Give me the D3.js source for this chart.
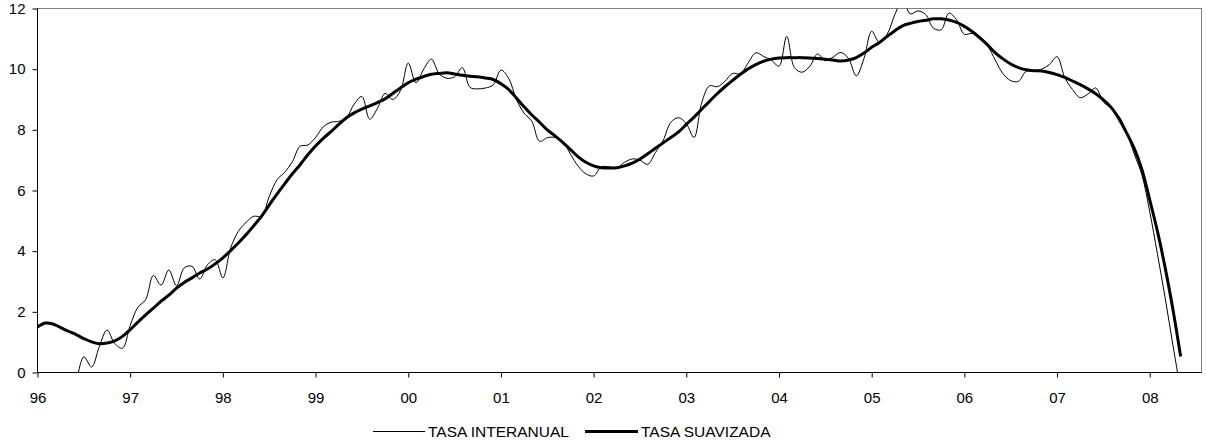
<!DOCTYPE html>
<html>
<head>
<meta charset="utf-8">
<script src="https://cdn.jsdelivr.net/npm/d3@7"></script>
<style>
  html, body { margin: 0; padding: 0; background: #fff; }
  svg { display: block; font-family: "Liberation Sans", Arial, sans-serif; }
</style>
</head>
<body>
<svg id="chart" width="1206" height="443"></svg>
<script>
// Monthly series starting January 1996 (index 0) through May 2008 (index 148).
const yearLabels = ["96","97","98","99","00","01","02","03","04","05","06","07","08"];
const yTicks = [0, 2, 4, 6, 8, 10, 12];

// TASA INTERANUAL (thin line); early months lie below the axis minimum.
const tasaInteranual = [
  null, null, null, null, null, -0.40, 0.52, 0.18, 0.85, 1.40, 0.95, 0.80,
  1.55, 2.15, 2.40, 3.20, 2.88, 3.38, 2.86, 3.45, 3.50, 3.08, 3.55, 3.72,
  3.12, 4.10, 4.65, 4.95, 5.15, 5.15, 5.80, 6.35, 6.60, 6.95, 7.46, 7.50,
  7.75, 8.10, 8.25, 8.28, 8.40, 8.85, 9.10, 8.35, 8.70, 9.20, 9.00, 9.30,
  10.20, 9.55, 10.00, 10.33, 9.85, 9.70, 9.75, 10.05, 9.40, 9.35, 9.38, 9.48,
  9.97, 9.70, 9.00, 8.55, 8.28, 7.62, 7.74, 7.75, 7.62, 7.20, 6.80, 6.55,
  6.48, 6.78, 6.78, 6.75, 6.93, 7.04, 7.00, 6.86, 7.25, 7.65, 8.25, 8.40,
  8.20, 7.75, 8.90, 9.45, 9.42, 9.60, 9.86, 9.85, 10.20, 10.54, 10.42, 10.30,
  10.10, 11.08, 10.05, 9.90, 10.10, 10.50, 10.28, 10.40, 10.55, 10.35, 9.78, 10.35,
  11.25, 10.88, 11.15, 11.80, 12.30, 11.82, 11.92, 11.80, 11.35, 11.30, 11.85, 11.62,
  11.15, 11.18, 11.08, 10.78, 10.30, 9.85, 9.62, 9.60, 9.93, 9.93, 10.00, 10.15,
  10.41, 9.72, 9.33, 9.06, 9.18, 9.38, 8.92, 8.72, 8.45, 7.92, 7.20, 6.50,
  5.30, 3.90, 2.45, 0.90, -0.60
];

// TASA SUAVIZADA (thick line).
const tasaSuavizada = [
  1.50, 1.63, 1.60, 1.48, 1.36, 1.25, 1.12, 1.01, 0.95, 0.97, 1.04, 1.19,
  1.41, 1.66, 1.90, 2.12, 2.35, 2.55, 2.78, 2.97, 3.12, 3.28, 3.41, 3.58,
  3.78, 4.02, 4.27, 4.54, 4.84, 5.15, 5.52, 5.88, 6.22, 6.55, 6.85, 7.18,
  7.47, 7.72, 7.94, 8.18, 8.40, 8.56, 8.68, 8.79, 8.90, 9.02, 9.20, 9.38,
  9.55, 9.67, 9.76, 9.83, 9.86, 9.88, 9.84, 9.80, 9.77, 9.75, 9.71, 9.66,
  9.52, 9.33, 9.05, 8.76, 8.49, 8.25, 8.00, 7.80, 7.59, 7.35, 7.11, 6.93,
  6.81, 6.75, 6.74, 6.75, 6.81, 6.90, 7.04, 7.21, 7.39, 7.57, 7.75, 7.93,
  8.18, 8.42, 8.68, 8.94, 9.19, 9.42, 9.63, 9.83, 10.01, 10.15, 10.26, 10.33,
  10.37, 10.38, 10.38, 10.38, 10.37, 10.35, 10.33, 10.30, 10.27, 10.30, 10.38, 10.53,
  10.72, 10.88, 11.08, 11.27, 11.43, 11.51, 11.57, 11.61, 11.66, 11.66, 11.62, 11.54,
  11.41, 11.24, 11.03, 10.80, 10.54, 10.34, 10.17, 10.05, 9.98, 9.95, 9.94, 9.89,
  9.82, 9.73, 9.61, 9.49, 9.35, 9.19, 8.99, 8.74, 8.37, 7.90, 7.38, 6.68,
  5.69, 4.65, 3.45, 2.08, 0.53
];

const svg = d3.select("#chart");
const plot = { left: 37.5, top: 8.5, right: 1201.5, bottom: 372.5 };

const x = d3.scaleLinear().domain([0, 150.7]).range([plot.left, plot.right]);
const y = d3.scaleLinear().domain([0, 12]).range([plot.bottom, plot.top]);

// plot-area frame
svg.append("rect")
  .attr("x", plot.left).attr("y", plot.top)
  .attr("width", plot.right - plot.left).attr("height", plot.bottom - plot.top)
  .attr("fill", "#fff").attr("stroke", "#808080").attr("stroke-width", 1);

svg.append("clipPath").attr("id", "plotClip")
  .append("rect")
  .attr("x", plot.left).attr("y", plot.top)
  .attr("width", plot.right - plot.left).attr("height", plot.bottom - plot.top);

// axes
const yAxis = d3.axisLeft(y).tickValues(yTicks).tickSize(5).tickPadding(7)
  .tickFormat(d3.format("d"));
const gy = svg.append("g").attr("transform", `translate(${plot.left},0)`).call(yAxis);

const xAxis = d3.axisBottom(x).tickValues(yearLabels.map((_, i) => i * 12))
  .tickSize(5).tickPadding(15).tickFormat((d, i) => yearLabels[i]);
const gx = svg.append("g").attr("transform", `translate(0,${plot.bottom})`).call(xAxis);

[gx, gy].forEach(g => {
  g.select(".domain").attr("stroke", "#000").attr("stroke-width", 1);
  g.selectAll(".tick line").attr("stroke", "#000");
  g.selectAll(".tick text").attr("fill", "#000")
    .style("font-size", "15px").style("font-family", "'Liberation Sans', Arial, sans-serif");
});
gy.select(".domain").attr("d", `M0,${plot.top}V${plot.bottom}`);
gx.select(".domain").attr("d", `M${plot.left},0H${plot.right}`);

// series
const line = d3.line()
  .defined(d => d.v !== null)
  .x(d => x(d.i))
  .y(d => y(d.v))
  .curve(d3.curveCatmullRom.alpha(0.5));

const lines = svg.append("g").attr("clip-path", "url(#plotClip)");

lines.append("path")
  .datum(tasaInteranual.map((v, i) => ({ i, v })))
  .attr("d", line)
  .attr("fill", "none").attr("stroke", "#000").attr("stroke-width", 1);

lines.append("path")
  .datum(tasaSuavizada.map((v, i) => ({ i, v })))
  .attr("d", line)
  .attr("fill", "none").attr("stroke", "#000").attr("stroke-width", 3);

// legend
const legendItems = [
  { label: "TASA INTERANUAL", x1: 373, x2: 425, width: 1 },
  { label: "TASA SUAVIZADA", x1: 585, x2: 638, width: 3 }
];
const legendY = 431.5;
const lg = svg.append("g");
legendItems.forEach(it => {
  lg.append("line")
    .attr("x1", it.x1).attr("x2", it.x2)
    .attr("y1", legendY).attr("y2", legendY)
    .attr("stroke", "#000").attr("stroke-width", it.width);
  lg.append("text")
    .attr("x", it.x2 + 3).attr("y", legendY + 5.5)
    .style("font-size", "15.5px").attr("fill", "#000")
    .text(it.label);
});
</script>
</body>
</html>
